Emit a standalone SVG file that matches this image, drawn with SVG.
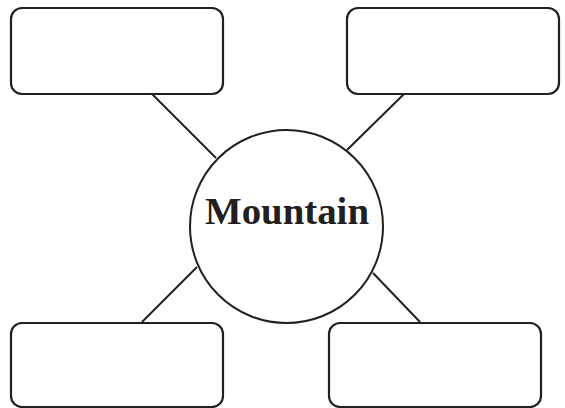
<svg xmlns="http://www.w3.org/2000/svg" width="565" height="408" viewBox="0 0 565 408">
<style>
.box{fill:#fff;stroke:#231f20;stroke-width:2.2}
.conn line{stroke:#231f20;stroke-width:2}
.hub{fill:#fff;stroke:#231f20;stroke-width:2}
.lbl{font-family:"Liberation Serif","Times New Roman",serif;font-weight:bold;font-size:37px;fill:#231f20}
</style>
<rect width="565" height="408" fill="#fff"/>
<g id="connectors" class="conn">
<line x1="152" y1="94" x2="216" y2="158"/>
<line x1="404" y1="94" x2="347" y2="150"/>
<line x1="197" y1="267" x2="142" y2="322"/>
<line x1="373" y1="273" x2="420" y2="322"/>
</g>
<g id="box-top-left"><rect class="box" x="11" y="8" width="212" height="86" rx="11"/></g>
<g id="box-top-right"><rect class="box" x="347" y="8" width="212" height="86" rx="11"/></g>
<g id="box-bottom-left"><rect class="box" x="11" y="323" width="212" height="84" rx="11"/></g>
<g id="box-bottom-right"><rect class="box" x="329" y="323" width="212" height="84" rx="11"/></g>
<g id="hub">
<circle class="hub" cx="286.5" cy="226.5" r="96.5"/>
<text class="lbl" x="287" y="224" text-anchor="middle" textLength="164" lengthAdjust="spacingAndGlyphs">Mountain</text>
</g>
</svg>
